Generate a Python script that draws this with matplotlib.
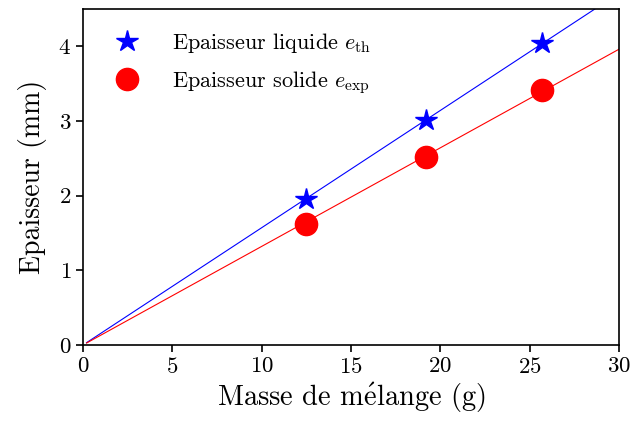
import numpy as np
import matplotlib
matplotlib.use('Agg')
import matplotlib.pyplot as plt

# Mesures
masse = [12.5, 19.2, 25.7]            # g
e_liquide = [1.95, 3.02, 4.04]        # mm
e_solide = [1.62, 2.52, 3.42]         # mm

plt.rcParams['font.family'] = 'serif'
plt.rcParams['font.serif'] = ['cmr10']
plt.rcParams['mathtext.fontset'] = 'cm'
plt.rcParams['axes.formatter.use_mathtext'] = True

fig = plt.figure(figsize=(6.3, 4.23), dpi=100)
ax = fig.add_axes([83 / 630, 1 - 345 / 423, (619 - 83) / 630, (345 - 9) / 423])

# Ajustement lineaire passant par l'origine
x = np.array(masse)
a_liq = np.sum(x * np.array(e_liquide)) / np.sum(x ** 2)
a_sol = np.sum(x * np.array(e_solide)) / np.sum(x ** 2)
xfit = np.linspace(0.2, 30, 100)
ax.plot(xfit, a_liq * xfit, color='blue', lw=0.8)
ax.plot(xfit, a_sol * xfit, color='red', lw=0.8)

ax.plot(masse, e_liquide, '*', color='blue', ms=16, ls='none',
        label=r'Epaisseur liquide $e_{\mathrm{th}}$')
ax.plot(masse, e_solide, 'o', color='red', ms=16, ls='none',
        label=r'Epaisseur solide $e_{\mathrm{exp}}$')

ax.set_xlim(0, 30)
ax.set_ylim(0, 4.5)
ax.set_xticks([0, 5, 10, 15, 20, 25, 30])
ax.set_yticks([0, 1, 2, 3, 4])
ax.tick_params(labelsize=16.5, width=1.2, length=5)
for s in ax.spines.values():
    s.set_linewidth(1.2)

ax.set_xlabel(r'Masse de m$\mathrm{\acute{e}}$lange (g)', fontsize=20.5, labelpad=3)
ax.set_ylabel('Epaisseur (mm)', fontsize=20, labelpad=8)
ax.legend(loc='upper left', frameon=False, fontsize=16, handletextpad=1.0,
          borderaxespad=0.6, labelspacing=0.6)

plt.savefig('out.png', dpi=100)
